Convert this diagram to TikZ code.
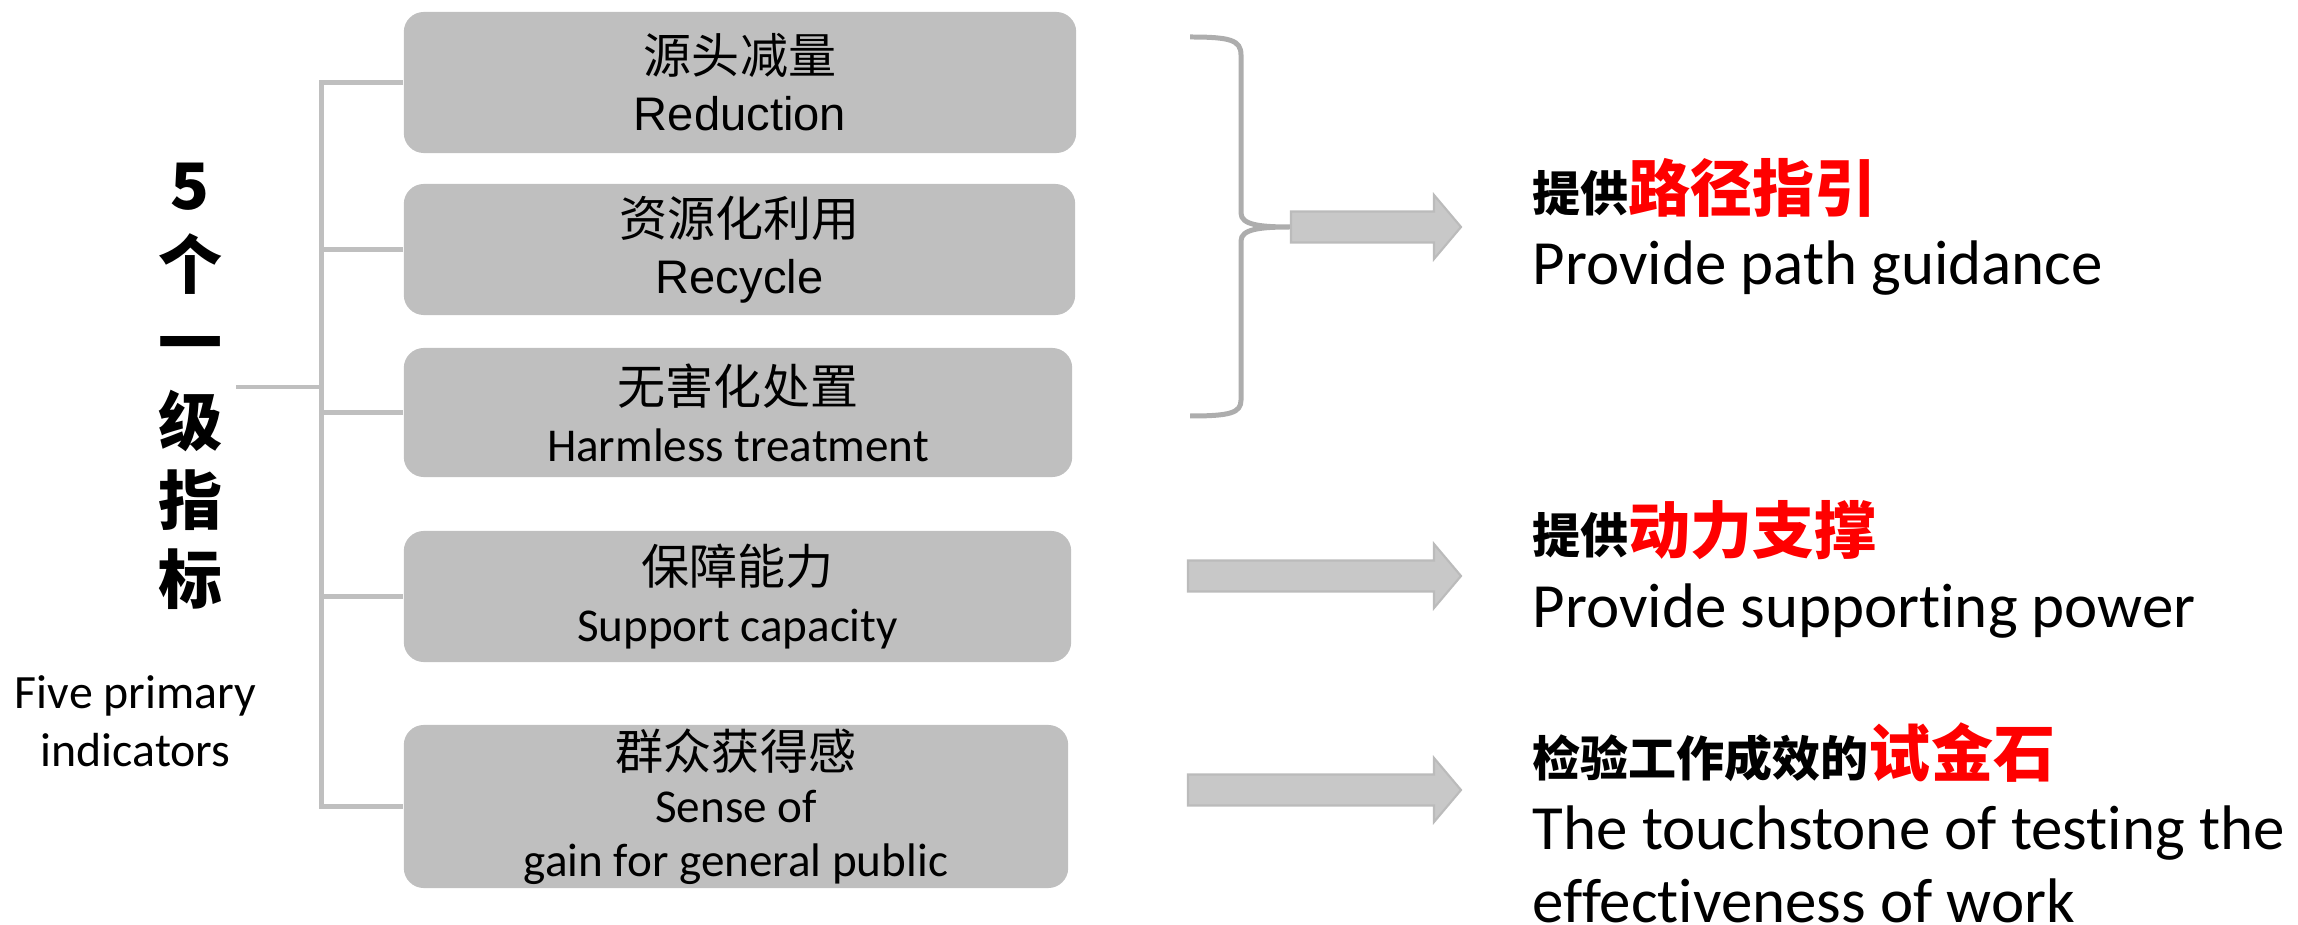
\documentclass[tikz,border=0pt]{standalone}
\usepackage{fontspec}
\setmainfont{Carlito}[Ligatures=NoCommon]
\newfontfamily\cjk{Noto Sans CJK SC}
\newfontfamily\arialf{Liberation Sans}
\definecolor{boxgray}{HTML}{BFBFBF}
\definecolor{linegray}{HTML}{BFBFBF}
\definecolor{bracegray}{HTML}{ADADAD}
\definecolor{arrowfill}{HTML}{C8C8C8}
\definecolor{arrowline}{HTML}{BBBBBB}
\definecolor{hlred}{HTML}{FF0000}
\newcommand\blockarr[2]{%
  \filldraw[barrow] (#1,#2-15.5) -- (1434,#2-15.5) -- (1434,#2-32) -- (1461,#2)
    -- (1434,#2+32) -- (1434,#2+15.5) -- (#1,#2+15.5) -- cycle;}
\begin{document}
\begin{tikzpicture}[x=0.01cm,y=-0.01cm,
  ibox/.style={fill=boxgray, rounded corners=0.2cm, inner sep=0pt, align=center,
    font=\fontsize{13.4}{16.2}\selectfont},
  tree/.style={draw=linegray, line width=1.42pt},
  bracestyle/.style={draw=bracegray, line width=1.42pt},
  barrow/.style={fill=arrowfill, draw=arrowline, line width=0.6pt},
  rtext/.style={anchor=base west, inner sep=0pt, font=\fontsize{17.9}{20.8}\selectfont},
  rhead/.style={anchor=base west, inner sep=0pt, font=\cjk\bfseries\fontsize{13.66}{16}\selectfont},
]
\useasboundingbox (0,0) rectangle (2298,925);

% boxes
\node[ibox, minimum width=6.72cm, minimum height=1.41cm] (b1) at (740,82.5)
  {{\cjk\fontsize{13.66}{16.2}\selectfont 源头减量}\\{\arialf Reduction}};
\node[ibox, minimum width=6.71cm, minimum height=1.31cm] (b2) at (739.5,249.5)
  {{\cjk\fontsize{13.66}{16.2}\selectfont 资源化利用}\\{\arialf Recycle}};
\node[ibox, minimum width=6.68cm, minimum height=1.29cm] (b3) at (738,412.5)
  {{\cjk\fontsize{13.66}{16.2}\selectfont 无害化处置}\\Harmless treatment};
\node[ibox, minimum width=6.67cm, minimum height=1.31cm] (b4) at (737.5,596.5)
  {{\cjk\fontsize{13.66}{16.2}\selectfont 保障能力}\\Support capacity};
\node[ibox, minimum width=6.64cm, minimum height=1.63cm] (b5) at (736,806.5)
  {{\cjk\fontsize{13.66}{15}\selectfont 群众获得感}\\[-1pt]Sense of\\[-1pt]gain for general public};

% tree
\coordinate (trunk) at (321,82);
\coordinate (stub) at (236,387);
\draw[tree] (b1.west) -- (b1.west -| trunk) -- (b5.west -| trunk) -- (b5.west);
\foreach \b in {b2,b3,b4} \draw[tree] (\b.west) -- (\b.west -| trunk);
\draw[tree] (stub) -- (stub -| trunk);

% title
\node[font=\cjk\bfseries\fontsize{18.2}{22.4}\selectfont, align=center, inner sep=0pt] (title) at (190,386)
  {5\\个\\一\\级\\指\\标};
\node[font=\fontsize{13.6}{16.5}\selectfont, align=center, inner sep=0pt] (five) at (135.5,721)
  {Five primary\\indicators};

% brace
\coordinate (brtop) at (1190,37);
\coordinate (brtip) at (1291,227);
\coordinate (brbot) at (1190,416);
\draw[bracestyle] (brtop) .. controls (1230,37) and (1241,40) .. (1241,55)
  -- (1241,213) .. controls (1241,225) and (1260,227) .. (brtip)
  .. controls (1260,227) and (1241,229) .. (1241,241)
  -- (1241,400) .. controls (1241,413) and (1230,416) .. (brbot);

% arrows
\blockarr{1291}{227}
\blockarr{1188}{576}
\blockarr{1188}{790}

% right texts
\node[rhead] (h1) at (1532,212) {提供{\color{hlred}\fontsize{17.64}{20}\selectfont 路径指引}};
\node[rtext] (t1) at (1532,285) {Provide path guidance};
\node[rhead] (h2) at (1532,554) {提供{\color{hlred}\fontsize{17.64}{20}\selectfont 动力支撑}};
\node[rtext] (t2) at (1532,627) {Provide supporting power};
\node[rhead] (h3) at (1532,776) {检验工作成效的{\color{hlred}\fontsize{17.64}{20}\selectfont 试金石}};
\node[rtext] (t3) at (1532,849) {The touchstone of testing the};
\node[rtext] (t4) at (1532,922) {effectiveness of work};
\end{tikzpicture}
\end{document}
